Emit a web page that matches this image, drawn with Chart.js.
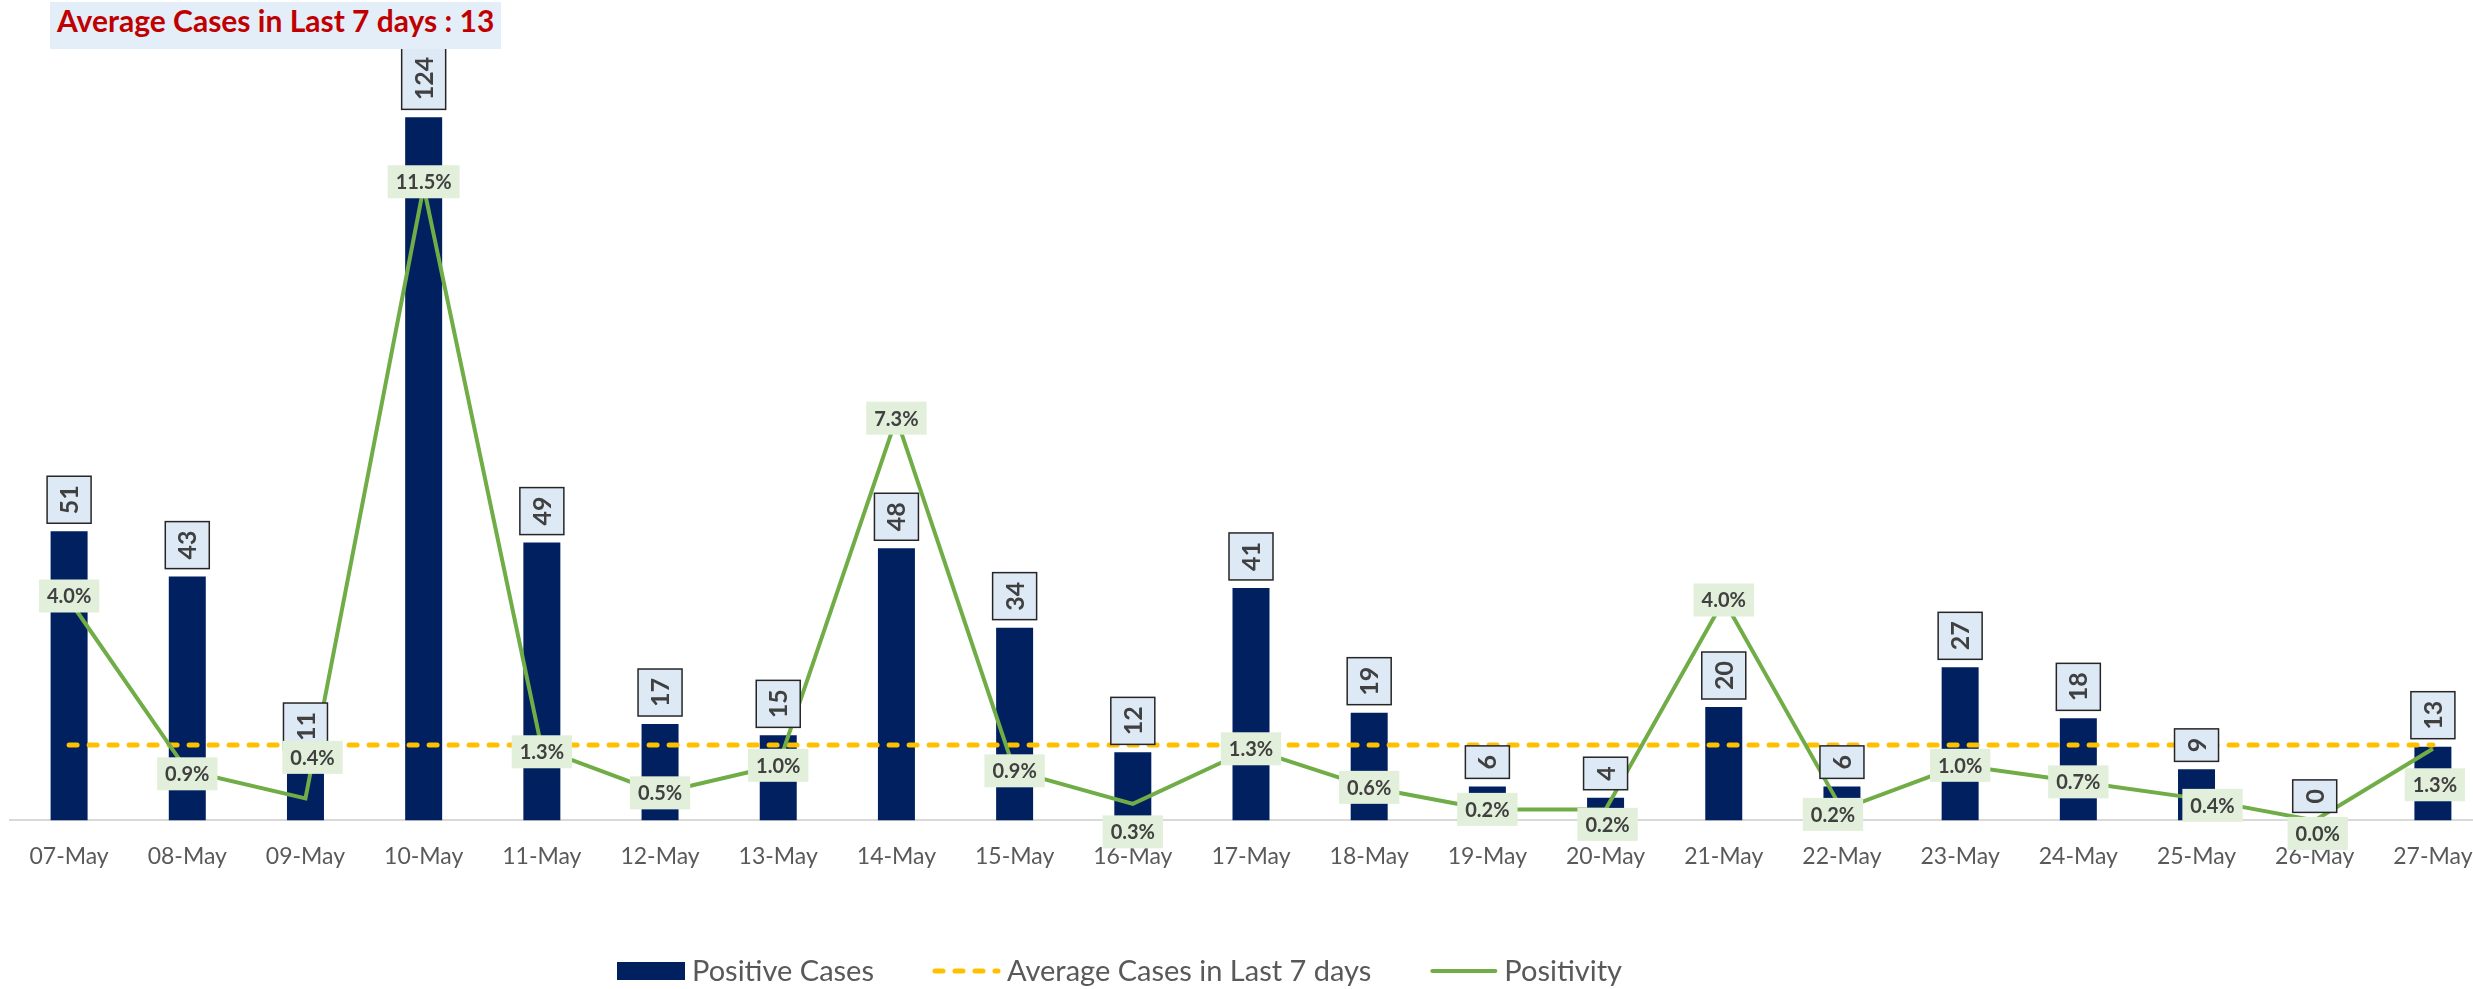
<!DOCTYPE html>
<html>
<head>
<meta charset="utf-8">
<script src="https://cdn.jsdelivr.net/npm/chart.js@4.4.1/dist/chart.umd.min.js"></script>
<style>
html, body { margin: 0; padding: 0; background: #fff; overflow: hidden; }
#wrap { position: relative; width: 2473px; height: 989px; overflow: hidden; }
#cases-chart { position: absolute; left: 0; top: 0; }
#title { position: absolute; left: 50px; top: 2px; height: 47px; line-height: 47px; padding: 0 7px;
  background: #e4eef8; color: #c00000; font: bold 30px Lato, sans-serif; white-space: nowrap; }
</style>
</head>
<body>
<div id="wrap">
  <canvas id="cases-chart" width="2492" height="989"></canvas>
  <div id="title"></div>
</div>
<script>
var days = ["07-May","08-May","09-May","10-May","11-May","12-May","13-May","14-May","15-May","16-May","17-May",
            "18-May","19-May","20-May","21-May","22-May","23-May","24-May","25-May","26-May","27-May"];
var positiveCases = [51, 43, 11, 124, 49, 17, 15, 48, 34, 12, 41, 19, 6, 4, 20, 6, 27, 18, 9, 0, 13];
var positivity = [4.0, 0.9, 0.4, 11.5, 1.3, 0.5, 1.0, 7.3, 0.9, 0.3, 1.3, 0.6, 0.2, 0.2, 4.0, 0.2, 1.0, 0.7, 0.4, 0.0, 1.3];
var avgLast7 = [13.3, 13.3, 13.3, 13.3, 13.3, 13.3, 13.3, 13.3, 13.3, 13.3, 13.3,
                13.3, 13.3, 13.3, 13.3, 13.3, 13.3, 13.3, 13.3, 13.3, 13.3];
var avgShown = 13;

// where Excel pushed some positivity labels off the point (px)
var labelShiftX = [0, 0, 7, 0, 0, 0, 0, 0, 0, 0, 0, 0, 0, 2, 0, -9, 0, 0, 16, 3, 2];
var labelShiftY = [-4, 3, -41, -5, 3, 0, 0, 0, 0, 28, 0, 0, 0, 15, 0, 5, 0, 0, 7, 13, 36];

document.getElementById('title').textContent = 'Average Cases in Last 7 days : ' + avgShown;

var navy = '#002060', gold = '#ffc000', green = '#70ad47', grey = '#595959';

var boxLabels = {
    id: 'boxLabels',
    afterDatasetsDraw: function(chart) {
        var ctx = chart.ctx;
        // case counts, rotated, above each bar
        chart.getDatasetMeta(0).data.forEach(function(bar, i) {
            var txt = String(positiveCases[i]);
            ctx.save();
            ctx.font = 'bold 25px Lato';
            var tw = ctx.measureText(txt).width;
            var w = 44, h = tw + 18;
            var bottom = bar.y - 8;
            ctx.fillStyle = '#dee9f6';
            ctx.fillRect(bar.x - w / 2, bottom - h, w, h);
            ctx.strokeStyle = '#262626';
            ctx.lineWidth = 1.5;
            ctx.strokeRect(bar.x - w / 2, bottom - h, w, h);
            ctx.translate(bar.x, bottom - h / 2);
            ctx.rotate(-Math.PI / 2);
            ctx.fillStyle = '#404040';
            ctx.textAlign = 'center';
            ctx.textBaseline = 'middle';
            ctx.fillText(txt, 0, 1);
            ctx.restore();
        });
        // positivity percentages
        chart.getDatasetMeta(2).data.forEach(function(pt, i) {
            var txt = positivity[i].toFixed(1) + '%';
            ctx.save();
            ctx.font = 'bold 20px Lato';
            var tw = ctx.measureText(txt).width;
            var w = tw + 16, h = 33;
            var cx = pt.x + labelShiftX[i], cy = pt.y + labelShiftY[i];
            ctx.fillStyle = '#e2efda';
            ctx.fillRect(cx - w / 2, cy - h / 2, w, h);
            ctx.fillStyle = '#404040';
            ctx.textAlign = 'center';
            ctx.textBaseline = 'middle';
            ctx.fillText(txt, cx, cy + 1);
            ctx.restore();
        });
    },
    afterDraw: function(chart) {
        // legend, drawn by hand so it can sit left of centre like the original
        var ctx = chart.ctx;
        var y = 971, x = 617;
        ctx.save();
        ctx.font = '29px Lato';
        ctx.textBaseline = 'middle';
        chart.data.datasets.forEach(function(ds, i) {
            if (i === 0) {
                ctx.fillStyle = navy;
                ctx.fillRect(x, y - 9, 68, 18);
            } else {
                ctx.beginPath();
                ctx.strokeStyle = ds.borderColor;
                ctx.lineWidth = ds.borderWidth;
                ctx.lineCap = 'round';
                ctx.setLineDash(ds.borderDash || []);
                ctx.moveTo(x + 3, y);
                ctx.lineTo(x + 66, y);
                ctx.stroke();
                ctx.setLineDash([]);
            }
            ctx.fillStyle = grey;
            ctx.fillText(ds.label, x + 75, y + 1);
            x += 75 + ctx.measureText(ds.label).width + 58;
        });
        ctx.restore();
    }
};

var casesCtx = document.getElementById('cases-chart').getContext('2d');
var casesChart = new Chart(casesCtx, {
    type: 'bar',
    data: {
        labels: days,
        datasets: [{
            label: 'Positive Cases',
            data: positiveCases,
            backgroundColor: navy,
            barPercentage: 0.313,
            categoryPercentage: 1,
            yAxisID: 'y',
            order: 3
        }, {
            type: 'line',
            label: 'Average Cases in Last 7 days',
            data: avgLast7,
            borderColor: gold,
            borderWidth: 5,
            borderDash: [8, 12],
            borderCapStyle: 'round',
            pointRadius: 0,
            yAxisID: 'y',
            order: 2
        }, {
            type: 'line',
            label: 'Positivity',
            data: positivity,
            borderColor: green,
            borderWidth: 4,
            pointRadius: 0,
            tension: 0,
            yAxisID: 'y1',
            order: 1
        }]
    },
    options: {
        responsive: false,
        animation: false,
        events: [],
        layout: { padding: { left: 10, right: 0, top: 38, bottom: 105 } },
        scales: {
            x: {
                offset: true,
                grid: { display: false },
                border: { display: true, color: '#d9d9d9', width: 2 },
                ticks: { font: { family: 'Lato', size: 23 }, color: grey, padding: 14, maxRotation: 0, autoSkip: false }
            },
            y: { display: false, min: 0, max: 138 },
            y1: { display: false, min: 0, max: 14.2, position: 'right' }
        },
        plugins: {
            legend: { display: false },
            tooltip: { enabled: false }
        }
    },
    plugins: [boxLabels]
});
</script>
</body>
</html>
